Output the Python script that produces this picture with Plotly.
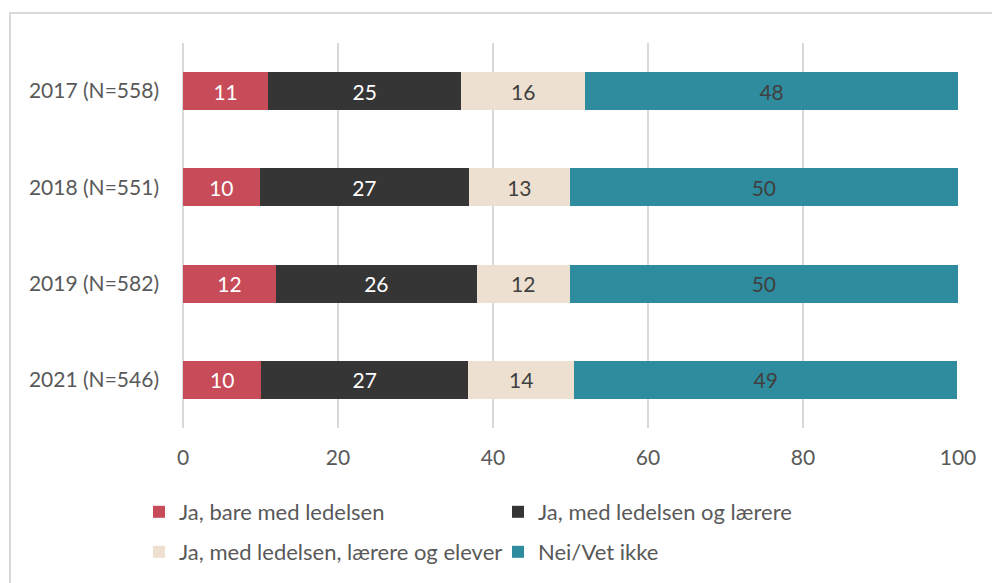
import plotly.graph_objects as go

categories = ["2017 (N=558)", "2018 (N=551)", "2019 (N=582)", "2021 (N=546)"]
series_names = ["Ja, bare med ledelsen", "Ja, med ledelsen og lærere",
                "Ja, med ledelsen, lærere og elever", "Nei/Vet ikke"]
bare_ledelsen = [11.0, 9.9, 12.0, 10.1]
ledelsen_laerere = [24.9, 27.0, 25.9, 26.7]
ledelsen_laerere_elever = [16.0, 13.0, 12.0, 13.7]
nei_vet_ikke = [48.1, 50.1, 50.1, 49.4]
x_ticks = [0, 20, 40, 60, 80, 100]

colors = ["#C84B5A", "#353535", "#EDE0D1", "#2E8C9E"]
label_colors = ["#FFFFFF", "#FFFFFF", "#404040", "#404040"]
values = [bare_ledelsen, ledelsen_laerere, ledelsen_laerere_elever, nei_vet_ikke]
legend_refs = ["legend", "legend", "legend2", "legend2"]

FONT = "Lato"
fig = go.Figure()
for name, vals, col, lc, lg in zip(series_names, values, colors, label_colors, legend_refs):
    fig.add_trace(go.Bar(
        y=categories, x=vals, name=name, orientation="h",
        marker=dict(color=col, line=dict(width=0)),
        texttemplate="%{x:.0f}", textposition="inside",
        insidetextanchor="middle", textangle=0,
        insidetextfont=dict(color=lc, size=21, family=FONT),
        constraintext="none", hoverinfo="skip", legend=lg,
    ))

W, H = 992, 583
L, R, T, B = 183, 34, 43, 155
pw, ph = W - L - R, H - T - B

def px_x(p):
    return (p - L) / pw

def px_y(p):
    return (H - B - p) / ph

legend_common = dict(
    orientation="h", traceorder="normal",
    xanchor="left", yanchor="top",
    entrywidth=314, entrywidthmode="pixels",
    font=dict(family=FONT, size=22, color="#595959"),
    bgcolor="rgba(0,0,0,0)",
)

fig.update_layout(
    barmode="stack",
    bargap=0.605,
    width=W, height=H,
    margin=dict(l=L, r=R, t=T, b=B, autoexpand=False),
    paper_bgcolor="white", plot_bgcolor="white",
    font=dict(family=FONT, size=21, color="#595959"),
    showlegend=True,
    legend=dict(x=px_x(139), y=px_y(491), **legend_common),
    legend2=dict(x=px_x(139), y=px_y(531), **legend_common),
    xaxis=dict(
        range=[0, 100], tickvals=x_ticks, showgrid=True,
        gridcolor="#D9D9D9", gridwidth=2, zeroline=True,
        zerolinecolor="#D9D9D9", zerolinewidth=2, showline=False,
        ticks="", ticklabelstandoff=15, fixedrange=True, automargin=False,
    ),
    yaxis=dict(
        autorange="reversed", showgrid=False, zeroline=False,
        showline=False, ticks="", ticklabelstandoff=23, automargin=False,
    ),
    shapes=[dict(
        type="rect", xref="paper", yref="paper",
        x0=px_x(10), x1=px_x(1000), y0=px_y(13), y1=px_y(600),
        line=dict(color="#D9D9D9", width=2), fillcolor="rgba(0,0,0,0)",
        layer="below",
    )],
)

fig.write_html(
    "out.html",
    config={"displayModeBar": False},
    post_script="document.body.style.margin='0';document.body.style.padding='0';",
)
